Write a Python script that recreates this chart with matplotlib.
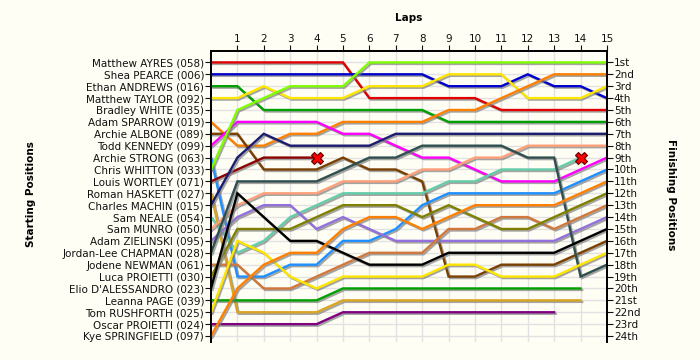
import matplotlib
matplotlib.use("Agg")
import matplotlib.pyplot as plt
import matplotlib.patheffects as pe

# starting grid order (top to bottom)
drivers = [
    "Matthew AYRES (058)", "Shea PEARCE (006)", "Ethan ANDREWS (016)",
    "Matthew TAYLOR (092)", "Bradley WHITE (035)", "Adam SPARROW (019)",
    "Archie ALBONE (089)", "Todd KENNEDY (099)", "Archie STRONG (063)",
    "Chris WHITTON (033)", "Louis WORTLEY (071)", "Roman HASKETT (027)",
    "Charles MACHIN (015)", "Sam NEALE (054)", "Sam MUNRO (050)",
    "Adam ZIELINSKI (095)", "Jordan-Lee CHAPMAN (028)", "Jodene NEWMAN (061)",
    "Luca PROIETTI (030)", "Elio D'ALESSANDRO (023)", "Leanna PAGE (039)",
    "Tom RUSHFORTH (025)", "Oscar PROIETTI (024)", "Kye SPRINGFIELD (097)",
]
finish_labels = ["1st", "2nd", "3rd"] + [f"{i}th" for i in range(4, 21)] + ["21st", "22nd", "23rd", "24th"]
laps = list(range(1, 16))

# position at the end of each lap (index 0 = grid)
car_058 = [1, 1, 1, 1, 1, 1, 4, 4, 4, 4, 4, 5, 5, 5, 5, 5]
car_006 = [2, 2, 2, 2, 2, 2, 2, 2, 2, 3, 3, 3, 2, 3, 3, 4]
car_016 = [3, 3, 5, 5, 5, 5, 5, 5, 5, 6, 6, 6, 6, 6, 6, 6]
car_092 = [4, 4, 3, 4, 4, 4, 3, 3, 3, 2, 2, 2, 4, 4, 4, 3]
car_035 = []
car_019 = [6, 8, 8, 7, 7, 6, 6, 6, 6, 5, 5, 4, 3, 2, 2, 2]
car_089 = [7, 7, 10, 10, 10, 9, 10, 10, 11, 19, 19, 18, 18, 18, 17, 16]
car_099 = [8, 6, 6, 6, 6, 7, 7, 8, 9, 9, 10, 11, 11, 11, 10, 9]
car_063 = [9, 19, 19, 18, 18, 16, 16, 15, 13, 12, 12, 12, 12, 12, 11, 10]
car_033 = [10, 5, 4, 3, 3, 3, 1, 1, 1, 1, 1, 1, 1, 1, 1, 1]
car_071 = [11, 10, 9, 9, 9]
car_027 = [12, 22, 22, 22, 22, 21, 21, 21, 21, 21, 21, 21, 21, 21, 21]
car_015 = [13, 9, 7, 8, 8, 8, 8, 7, 7, 7, 7, 7, 7, 7, 7, 7]
car_054 = [14, 17, 16, 14, 13, 12, 12, 12, 12, 11, 11, 10, 10, 10, 9]
car_050 = [15, 13, 12, 12, 12, 11, 11, 11, 10, 10, 9, 9, 8, 8, 8, 8]
car_095 = [16, 14, 13, 13, 15, 14, 15, 16, 16, 16, 16, 16, 16, 16, 15, 14]
car_028 = [17, 11, 11, 11, 11, 10, 9, 9, 8, 8, 8, 8, 9, 9, 19, 18]
car_061 = [18, 18, 20, 20, 19, 18, 17, 17, 17, 15, 15, 14, 14, 15, 14, 13]
car_030 = [19, 15, 15, 15, 14, 13, 13, 13, 14, 13, 14, 15, 15, 14, 13, 12]
car_023 = [20, 12, 14, 16, 16, 17, 18, 18, 18, 17, 17, 17, 17, 17, 16, 15]
car_039 = [21, 21, 21, 21, 21, 20, 20, 20, 20, 20, 20, 20, 20, 20, 20]
car_025 = [22, 16, 17, 19, 20, 19, 19, 19, 19, 18, 18, 19, 19, 19, 18, 17]
car_024 = [23, 23, 23, 23, 23, 22, 22, 22, 22, 22, 22, 22, 22, 22]
car_097 = [24, 20, 18, 17, 17, 15, 14, 14, 15, 14, 13, 13, 13, 13, 12, 11]

retired = ["071", "054"]

cars = [
    ("058", car_058, "#E00000"), ("006", car_006, "#0000CC"),
    ("016", car_016, "#00A000"), ("092", car_092, "#FFE600"),
    ("035", car_035, "#000000"), ("019", car_019, "#FF8000"),
    ("089", car_089, "#7A4000"), ("099", car_099, "#FF00FF"),
    ("063", car_063, "#1E90FF"), ("033", car_033, "#7FFF00"),
    ("071", car_071, "#8B0000"), ("027", car_027, "#DAA520"),
    ("015", car_015, "#1C1C70"), ("054", car_054, "#66CDAA"),
    ("050", car_050, "#FFA07A"), ("095", car_095, "#9370DB"),
    ("028", car_028, "#2F4F4F"), ("061", car_061, "#D2783C"),
    ("030", car_030, "#808000"), ("023", car_023, "#000000"),
    ("039", car_039, "#00A000"), ("025", car_025, "#FFE600"),
    ("024", car_024, "#800080"), ("097", car_097, "#FF8000"),
]

bg = "#FEFEF4"
fig = plt.figure(figsize=(7, 3.6), dpi=100, facecolor=bg)
ax = fig.add_axes([0.3014, 0.05, 0.5657, 0.8097], facecolor=bg)

shadow = [pe.SimpleLineShadow(offset=(1.1, -1.1), shadow_color="#808080", alpha=0.7), pe.Normal()]

for num, pos, color in cars:
    if not pos:
        continue
    ax.plot(range(len(pos)), pos, color=color, lw=1.7, solid_joinstyle="miter",
            path_effects=shadow, zorder=3)
    if num in retired:
        ax.plot(len(pos) - 1, pos[-1], marker="X", ms=9, mfc="#FF0000",
                mec="#600000", mew=0.8, zorder=5)

ax.set_xlim(0, 15)
ax.set_ylim(24.5, 0)

ax.xaxis.tick_top()
ax.set_xticks(laps)
ax.set_xticklabels([str(l) for l in laps])
ax.set_yticks(range(1, 25))
ax.set_yticklabels(drivers)

ax.tick_params(axis="x", top=True, bottom=False, length=4, pad=1, labelsize=7.5, colors="#111111")
ax.tick_params(axis="y", length=4, pad=1, labelsize=7.5, colors="#111111")

ax2 = ax.twinx()
ax2.set_ylim(24.5, 0)
ax2.set_yticks(range(1, 25))
ax2.set_yticklabels(finish_labels)
ax2.tick_params(axis="y", length=4, pad=1, labelsize=7.5, colors="#111111")

for a in (ax, ax2):
    for side in ("left", "right", "top"):
        a.spines[side].set_linewidth(1.3)
        a.spines[side].set_color("black")
    a.spines["bottom"].set_visible(False)

ax.grid(True, color="#E2E2E2", lw=1, zorder=0)
ax.set_axisbelow(True)

fig.text(0.584, 0.95, "Laps", ha="center", va="center", fontsize=7.5, fontweight="bold")
fig.text(0.045, 0.46, "Starting Positions", ha="center", va="center", rotation=90,
         fontsize=7.5, fontweight="bold")
fig.text(0.958, 0.46, "Finishing Positions", ha="center", va="center", rotation=270,
         fontsize=7.5, fontweight="bold")

fig.savefig("out.png", dpi=100, facecolor=bg)
plt.close(fig)
